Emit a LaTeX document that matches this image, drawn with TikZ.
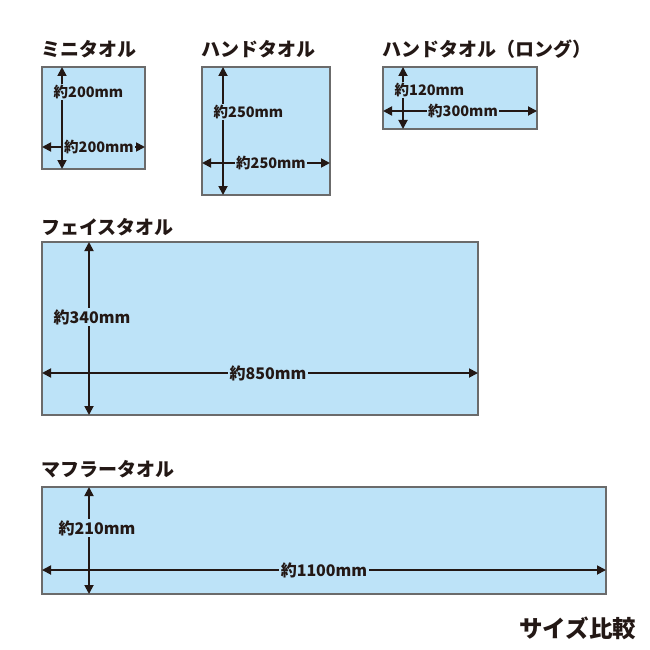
\documentclass[tikz,border=0pt]{standalone}
\usepackage{fontspec}
\newfontfamily\jp{Noto Sans CJK JP}
\usetikzlibrary{arrows.meta}
\definecolor{towel}{HTML}{BDE3F8}
\definecolor{edge}{HTML}{6B6B6B}
\definecolor{ink}{HTML}{231815}
\tikzset{
  x=1pt,y=-1pt,
  towelbox/.style={draw=edge,line width=1.1pt,fill=towel},
  dim/.style={draw=ink,line width=1.8pt,{Triangle[length=9pt,width=9pt]}-{Triangle[length=9pt,width=9pt]}},
  dimlabel/.style={fill=towel,inner sep=1.5pt,text=ink,font=\jp\bfseries\fontsize{16}{18}\selectfont},
  smalllabel/.style={dimlabel,font=\jp\bfseries\fontsize{14.5}{16}\selectfont},
  title/.style={anchor=base west,inner sep=0pt,text=ink,font=\jp\bfseries\fontsize{19}{21}\selectfont},
}
\begin{document}
\begin{tikzpicture}
\useasboundingbox[fill=white] (0,0) rectangle (650,650);
% titles
\node[title] (t1) at (41,57) {ミニタオル};
\node[title] (t2) at (201,57) {ハンドタオル};
\node[title] (t3) at (382,57) {ハンドタオル（ロング）};
\node[title] (t4) at (41,234) {フェイスタオル};
\node[title] (t5) at (41,476) {マフラータオル};
\node[title,font=\jp\bfseries\fontsize{23.5}{25}\selectfont] (t6) at (519,637) {サイズ比較};
% boxes
\path[towelbox] (42,67) rectangle (145,169);
\coordinate (m1) at (42,67); \coordinate (m2) at (145,169);
\path[towelbox] (202,67) rectangle (330,195);
\coordinate (h1) at (202,67); \coordinate (h2) at (330,195);
\path[towelbox] (383,67) rectangle (537,129);
\coordinate (l1) at (383,67); \coordinate (l2) at (537,129);
\path[towelbox] (42,242) rectangle (478,415);
\coordinate (f1) at (42,242); \coordinate (f2) at (478,415);
\path[towelbox] (42,487) rectangle (606,594);
\coordinate (u1) at (42,487); \coordinate (u2) at (606,594);
% dimension guide positions
\coordinate (mv) at (62,147);
\coordinate (hv) at (223,163);
\coordinate (lv) at (403,111);
\coordinate (fv) at (89,373);
\coordinate (uv) at (89,570);
% mini
\draw[dim] (m1 -| mv) -- (m2 -| mv);
\draw[dim] (m1 |- mv) -- (m2 |- mv);
\node[smalllabel,anchor=west] (mlv) at (52,92) {約200mm};
\node[smalllabel] (mlh) at (99,147) {約200mm};
% hand
\draw[dim] (h1 -| hv) -- (h2 -| hv);
\draw[dim] (h1 |- hv) -- (h2 |- hv);
\node[smalllabel,anchor=west] (hlv) at (212,112) {約250mm};
\node[smalllabel] (hlh) at (271,163) {約250mm};
% long
\draw[dim] (l1 -| lv) -- (l2 -| lv);
\draw[dim] (l1 |- lv) -- (l2 |- lv);
\node[smalllabel,anchor=west] (llv) at (393,90) {約120mm};
\node[smalllabel] (llh) at (463,111) {約300mm};
% face
\draw[dim] (f1 -| fv) -- (f2 -| fv);
\draw[dim] (f1 |- fv) -- (f2 |- fv);
\node[dimlabel,anchor=west] (flv) at (52,317) {約340mm};
\node[dimlabel] (flh) at (268,373) {約850mm};
% muffler
\draw[dim] (u1 -| uv) -- (u2 -| uv);
\draw[dim] (u1 |- uv) -- (u2 |- uv);
\node[dimlabel,anchor=west] (ulv) at (57,528) {約210mm};
\node[dimlabel] (ulh) at (324,570) {約1100mm};
\end{tikzpicture}
\end{document}
